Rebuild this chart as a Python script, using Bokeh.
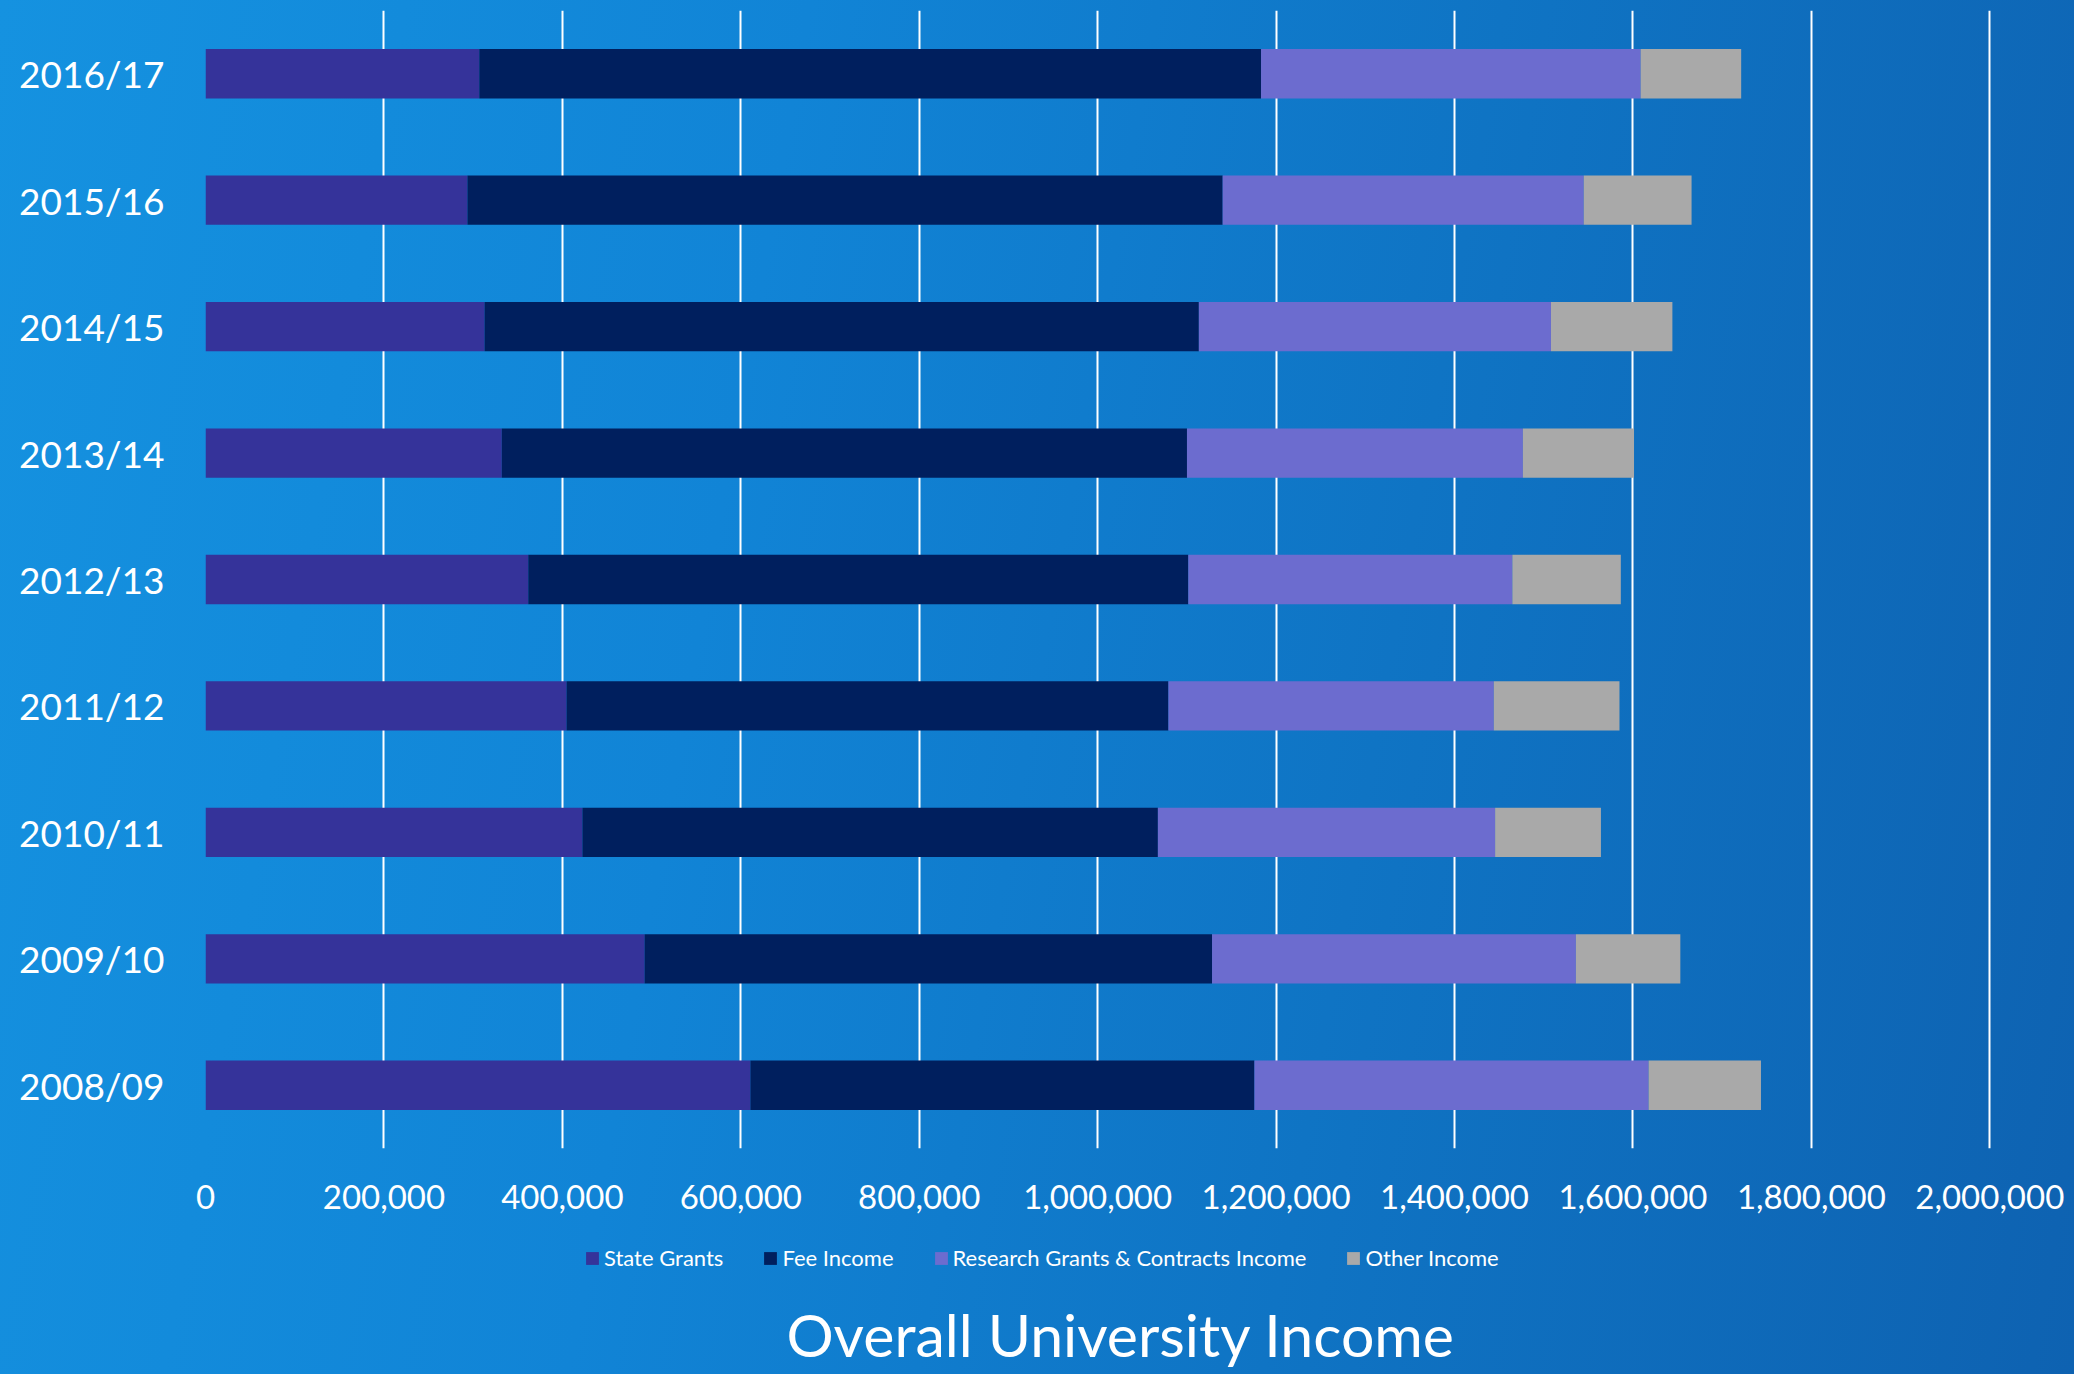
from bokeh.plotting import figure
from bokeh.layouts import column
from bokeh.models import (FactorRange, Range1d, FixedTicker, NumeralTickFormatter,
                          Legend, LegendItem, Title, ColumnDataSource)
from bokeh.embed import file_html
from bokeh.resources import INLINE

years = ["2008/09", "2009/10", "2010/11", "2011/12", "2012/13",
         "2013/14", "2014/15", "2015/16", "2016/17"]
state_grants = [610800, 492200, 422500, 404700, 361800, 332100, 312800, 293600, 306900]
fee_income = [564900, 636000, 645000, 674600, 739800, 768000, 800600, 846500, 876200]
research_income = [441800, 407800, 378000, 364700, 363200, 376500, 394700, 404700, 425500]
other_income = [126000, 117100, 118600, 140900, 121600, 124600, 136100, 120900, 112700]
series_names = ["State Grants", "Fee Income", "Research Grants & Contracts Income", "Other Income"]
series_keys = ["state", "fee", "research", "other"]
series_colors = ["#35339A", "#001F5E", "#6C6CCF", "#A9A9A9"]
x_ticks = [0, 200000, 400000, 600000, 800000, 1000000, 1200000, 1400000,
           1600000, 1800000, 2000000]
title_text = "Overall University Income"

source = ColumnDataSource(dict(year=years, state=state_grants, fee=fee_income,
                               research=research_income, other=other_income))

# ---- main chart ----
p = figure(width=2074, height=1232, output_backend="svg", toolbar_location=None,
           y_range=FactorRange(factors=years, range_padding=0),
           x_range=Range1d(0, 2003000),
           min_border_left=205, min_border_right=82, min_border_top=10,
           min_border_bottom=84)
p.background_fill_alpha = 0
p.border_fill_alpha = 0
p.outline_line_color = None

renderers = p.hbar_stack(series_keys, y="year", height=0.39, color=series_colors,
                         line_color=None, source=source)

p.xaxis.ticker = FixedTicker(ticks=x_ticks)
p.xaxis.formatter = NumeralTickFormatter(format="0,0")
p.xaxis.major_label_text_color = "white"
p.xaxis.major_label_text_font = "Lato"
p.xaxis.major_label_text_font_size = "33px"
p.xaxis.major_label_standoff = 30
p.xaxis.axis_line_color = None
p.xaxis.major_tick_line_color = None
p.xaxis.minor_tick_line_color = None

p.yaxis.major_label_text_color = "white"
p.yaxis.major_label_text_font = "Lato"
p.yaxis.major_label_text_font_size = "37px"
p.yaxis.major_label_standoff = 35
p.yaxis.axis_line_color = None
p.yaxis.major_tick_line_color = None

p.xgrid.grid_line_color = "white"
p.xgrid.grid_line_width = 2
p.ygrid.grid_line_color = None

# ---- legend + title strip (frame aligned with the main chart) ----
p2 = figure(width=2074, height=142, output_backend="svg", toolbar_location=None,
            x_axis_location=None, y_axis_location=None,
            min_border_left=205, min_border_right=82, min_border_top=0, min_border_bottom=0)
p2.background_fill_alpha = 0
p2.border_fill_alpha = 0
p2.outline_line_color = None
p2.grid.grid_line_color = None

# legend keys: zero-length bars, one per series, only used for the legend swatches
key_src = ColumnDataSource(dict(y=[0], right=[0]))
key_renderers = [p2.hbar(y="y", right="right", height=0.4, color=c, line_color=None,
                         source=key_src) for c in series_colors]

legend = Legend(items=[LegendItem(label=n, renderers=[r]) for n, r in zip(series_names, key_renderers)],
                orientation="horizontal", location=(379, 20),
                background_fill_alpha=0, border_line_color=None,
                label_text_color="white", label_text_font="Lato",
                label_text_font_size="22px", glyph_width=16, glyph_height=16,
                label_standoff=4, spacing=39, padding=4, margin=0)
p2.add_layout(legend, "center")

p2.add_layout(Title(text=title_text, align="left", text_font="Lato",
                    text_font_size="59px", text_font_style="normal",
                    text_color="white", offset=581), "below")

layout = column(p, p2, spacing=0,
                styles={"background": "linear-gradient(100deg, #1592E0 0%, #1184D6 35%, #0F74C4 65%, #0E62B1 100%)"})

open("out.html", "w").write(file_html(layout, INLINE))
